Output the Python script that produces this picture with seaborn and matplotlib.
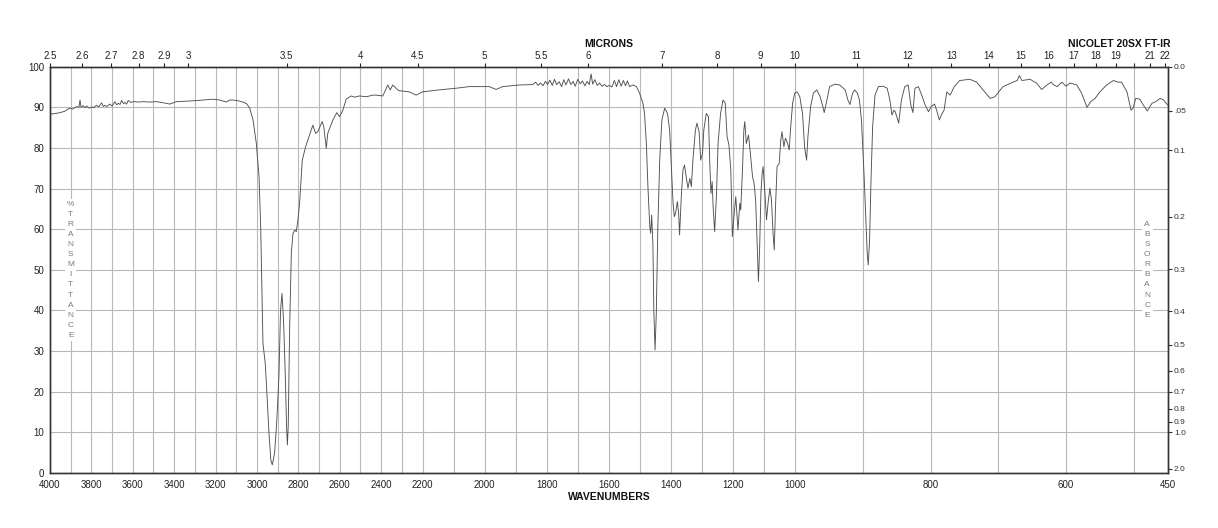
import numpy as np
import matplotlib
matplotlib.use("Agg")
import matplotlib.pyplot as plt
import seaborn as sns
import pandas as pd

# ---------------- data ----------------
wavenumber = [
    4000, 3960, 3930, 3905, 3890, 3870, 3860, 3855, 3850, 3840, 3830, 3823, 3810, 3800,
    3790, 3775, 3765, 3751, 3742, 3735, 3725, 3711, 3700, 3686, 3678, 3670, 3662, 3654,
    3645, 3638, 3630, 3622, 3610, 3598, 3570, 3550, 3520, 3485, 3450, 3421, 3400, 3389,
    3350, 3309, 3260, 3212, 3180, 3148, 3132, 3116, 3090, 3068, 3050, 3035, 3019, 3003,
    2990, 2982, 2976, 2971, 2960, 2952, 2942, 2933, 2926, 2915, 2904, 2894, 2886, 2879,
    2871, 2863, 2857, 2853, 2849, 2842, 2834, 2826, 2817, 2810, 2802, 2794, 2781, 2765,
    2746, 2730, 2717, 2706, 2685, 2677, 2665, 2658, 2649, 2633, 2614, 2601, 2585, 2569,
    2545, 2529, 2505, 2472, 2440, 2424, 2392, 2368, 2356, 2344, 2320, 2312, 2264, 2231,
    2200, 2146, 2092, 2049, 1985, 1963, 1942, 1888, 1845, 1836, 1828, 1820, 1812, 1804,
    1797, 1790, 1782, 1775, 1768, 1760, 1752, 1745, 1738, 1730, 1722, 1715, 1708, 1700,
    1692, 1685, 1677, 1670, 1663, 1657, 1652, 1645, 1637, 1630, 1622, 1614, 1606, 1598,
    1590, 1582, 1575, 1568, 1560, 1553, 1546, 1540, 1533, 1522, 1511, 1501, 1490, 1485,
    1479, 1474, 1468, 1465, 1462, 1458, 1455, 1451, 1447, 1442, 1436, 1429, 1420, 1411,
    1404, 1398, 1393, 1389, 1385, 1379, 1375, 1372, 1366, 1361, 1356, 1350, 1345, 1339,
    1334, 1329, 1321, 1316, 1309, 1304, 1298, 1294, 1286, 1279, 1275, 1271, 1267, 1264,
    1259, 1253, 1248, 1240, 1232, 1225, 1219, 1213, 1207, 1202, 1197, 1191, 1187, 1184,
    1178, 1175, 1169, 1165, 1162, 1157, 1150, 1144, 1137, 1132, 1127, 1122, 1118, 1114,
    1110, 1106, 1103, 1097, 1092, 1087, 1081, 1076, 1071, 1067, 1063, 1058, 1051, 1046,
    1042, 1036, 1031, 1024, 1019, 1014, 1008, 1001, 997, 993, 989, 986, 983, 981,
    977, 973, 968, 963, 959, 957, 954, 949, 941, 934, 926, 922, 919, 915,
    912, 908, 905, 902, 898, 895, 893.5, 892, 890, 888, 885.5, 882, 877, 870,
    864, 860, 857, 854, 852, 847, 843, 838, 833, 829, 826, 823, 818, 813,
    808, 803, 799, 794, 791, 787, 784, 780, 776, 771, 765, 757, 742, 732,
    720, 712, 705, 693, 678, 672, 669, 665, 653, 643, 636, 628, 622, 618,
    613, 606, 600, 594, 584, 577, 569, 563.5, 557, 550, 540, 530, 523, 518,
    510, 504, 501, 497, 491, 486, 480, 473, 467.5, 461, 456, 451, 450,
]
transmittance = [
    88.3, 88.6, 89.0, 89.8, 89.6, 90.2, 90.0, 91.8, 90.0, 90.4, 89.9, 90.3, 89.8, 90.1,
    89.9, 90.5, 90.1, 91.1, 90.2, 90.5, 90.2, 90.8, 90.3, 91.4, 90.6, 91.0, 90.7, 91.7,
    90.9, 91.2, 90.8, 91.7, 91.2, 91.4, 91.3, 91.4, 91.3, 91.4, 91.1, 90.8, 91.2, 91.4,
    91.5, 91.6, 91.8, 92.0, 91.8, 91.3, 91.8, 91.8, 91.6, 91.3, 90.9, 89.8, 86.9, 81.1,
    72.9, 60.6, 44.2, 31.9, 27.0, 19.6, 9.8, 3.2, 2.0, 4.8, 13.0, 23.7, 40.1, 44.2,
    36.8, 23.7, 11.4, 6.9, 11.4, 36.0, 54.1, 59.0, 59.8, 59.4, 62.3, 66.4, 77.0, 80.3,
    83.2, 85.6, 83.6, 84.0, 86.5, 85.2, 79.9, 83.6, 84.8, 86.9, 88.7, 87.7, 89.3, 92.0,
    92.8, 92.5, 92.8, 92.6, 93.0, 93.0, 92.8, 95.5, 94.3, 95.5, 94.3, 94.1, 93.8, 93.0,
    93.8, 94.3, 94.7, 95.1, 95.1, 94.4, 95.1, 95.5, 95.6, 96.2, 95.4, 96.0, 95.3, 96.4,
    95.6, 96.7, 95.4, 96.9, 95.6, 96.3, 95.1, 96.8, 95.5, 97.0, 95.6, 96.4, 95.2, 96.9,
    95.8, 96.5, 95.3, 96.4, 95.6, 98.2, 95.7, 96.8, 95.4, 96.0, 95.2, 95.6, 95.1, 95.4,
    95.0, 96.6, 95.1, 96.8, 95.2, 96.6, 95.3, 96.5, 95.1, 95.5, 95.1, 93.5, 91.0, 88.5,
    81.1, 70.5, 60.6, 59.0, 63.5, 56.5, 40.1, 30.3, 39.3, 60.6, 77.0, 86.9, 89.8, 88.5,
    84.4, 74.6, 66.4, 63.1, 63.9, 66.8, 63.9, 58.6, 68.8, 74.6, 75.8, 72.5, 70.1, 72.5,
    70.5, 77.0, 84.4, 86.1, 84.0, 77.0, 78.7, 84.4, 88.5, 87.7, 77.0, 68.8, 71.7, 65.5,
    59.4, 68.8, 81.1, 88.5, 91.8, 91.0, 82.8, 80.7, 74.6, 58.2, 63.1, 68.0, 63.1, 59.8,
    66.4, 64.7, 75.4, 84.4, 86.5, 81.1, 83.2, 78.7, 72.9, 71.3, 67.2, 55.7, 47.1, 55.7,
    68.8, 73.8, 75.4, 68.8, 62.3, 66.4, 70.1, 67.2, 59.0, 54.9, 65.5, 75.4, 76.2, 82.0,
    84.0, 80.3, 82.4, 81.1, 79.5, 85.2, 91.0, 93.5, 93.8, 92.6, 88.5, 80.3, 77.0, 82.8,
    90.2, 93.5, 94.3, 92.6, 90.2, 88.7, 91.0, 95.1, 95.7, 95.5, 94.3, 91.8, 90.7, 93.5,
    94.3, 93.5, 91.8, 86.9, 72.9, 60.6, 54.1, 51.2, 57.3, 71.3, 85.2, 93.0, 95.1, 95.2,
    94.7, 91.8, 88.1, 89.3, 88.9, 86.1, 91.8, 95.1, 95.5, 90.5, 88.7, 94.7, 95.1, 93.0,
    90.6, 88.9, 90.2, 90.8, 89.3, 86.9, 88.1, 89.3, 93.8, 93.0, 95.1, 96.6, 96.9, 96.2,
    93.8, 92.2, 92.6, 95.1, 96.2, 96.6, 97.8, 96.6, 96.9, 95.9, 94.4, 95.5, 96.2, 95.5,
    95.1, 96.2, 95.2, 96.0, 95.5, 93.5, 90.0, 91.4, 92.2, 93.8, 95.5, 96.6, 96.2, 96.2,
    93.8, 89.3, 89.8, 92.2, 92.0, 90.6, 89.1, 91.0, 91.4, 92.2, 91.8, 90.8, 90.6,
]

x_tick_values = [4000, 3800, 3600, 3400, 3200, 3000, 2800, 2600, 2400, 2200, 2000,
                 1800, 1600, 1400, 1200, 1000, 800, 600, 450]
y_tick_values = [0, 10, 20, 30, 40, 50, 60, 70, 80, 90, 100]
micron_values = [2.5, 2.6, 2.7, 2.8, 2.9, 3, 3.5, 4, 4.5, 5, 5.5, 6, 7, 8, 9, 10, 11,
                 12, 13, 14, 15, 16, 17, 18, 19, 20, 21, 22]
micron_labels = ["2.5", "2.6", "2.7", "2.8", "2.9", "3", "3.5", "4", "4.5", "5", "5.5",
                 "6", "7", "8", "9", "10", "11", "12", "13", "14", "15", "16", "17",
                 "18", "19", "", "21", "22"]
absorbance_values = [0.0, 0.05, 0.1, 0.2, 0.3, 0.4, 0.5, 0.6, 0.7, 0.8, 0.9, 1.0, 2.0]
absorbance_labels = ["0.0", ".05", "0.1", "0.2", "0.3", "0.4", "0.5", "0.6", "0.7",
                     "0.8", "0.9", "1.0", "2.0"]

# ---------------- piecewise wavenumber scale ----------------
BRK_W = np.array([450.0, 1000.0, 2200.0, 4000.0])
BRK_U = np.array([0.0, 1.0, 2.0, 3.0])


def fwd(w):
    w = np.asarray(w, dtype=float)
    out = np.interp(w, BRK_W, BRK_U)
    out = np.where(w < 450, (w - 450) / 550.0, out)
    out = np.where(w > 4000, 3 + (w - 4000) / 1800.0, out)
    return out


def inv(u):
    u = np.asarray(u, dtype=float)
    out = np.interp(u, BRK_U, BRK_W)
    out = np.where(u < 0, 450 + u * 550.0, out)
    out = np.where(u > 3, 4000 + (u - 3) * 1800.0, out)
    return out


sns.set_theme(style="white")
plt.rcParams["font.family"] = ["Liberation Sans", "DejaVu Sans"]

W, H = 1218, 528
fig = plt.figure(figsize=(W / 100, H / 100), dpi=100)
ax = fig.add_axes([50 / W, 55 / H, 1117.6 / W, 406.3 / H])

df = pd.DataFrame({"wavenumber": wavenumber, "transmittance": transmittance})
sns.lineplot(data=df, x="wavenumber", y="transmittance", ax=ax, estimator=None,
             sort=False, color="#505050", linewidth=0.65, zorder=3)

ax.set_xscale("function", functions=(fwd, inv))
ax.set_xlim(4000, 450)
ax.set_ylim(0, 100)
ax.set_xlabel("")
ax.set_ylabel("")

grid_kw = dict(color="#b8b8b8", linewidth=0.8)
ax.set_xticks(x_tick_values)
ax.set_xticklabels([str(v) for v in x_tick_values])
ax.set_xticks(list(range(500, 4000, 100)), minor=True)
ax.set_yticks(y_tick_values)
ax.set_yticklabels([str(v) for v in y_tick_values])
ax.grid(True, which="both", axis="x", **grid_kw)
ax.grid(True, which="major", axis="y", **grid_kw)
ax.set_axisbelow(True)
ax.tick_params(axis="x", which="both", length=0, pad=5, labelsize=7, colors="#222222")
ax.tick_params(axis="y", which="both", length=0, pad=4, labelsize=7, colors="#222222")

for sp in ax.spines.values():
    sp.set_color("#333333")
    sp.set_linewidth(0.9)

# top micron axis
axt = ax.twiny()
axt.set_xscale("function", functions=(fwd, inv))
axt.set_xlim(4000, 450)
axt.set_xticks([10000.0 / m for m in micron_values])
axt.set_xticklabels(micron_labels)
axt.tick_params(axis="x", direction="out", length=3, width=0.8, pad=1,
                labelsize=7, colors="#222222")
axt.grid(False)

# right absorbance axis
axr = ax.twinx()
axr.set_ylim(0, 100)
axr.set_yticks([100 * 10 ** (-a) for a in absorbance_values])
axr.set_yticklabels(absorbance_labels)
axr.tick_params(axis="y", direction="out", length=3, width=0.8, pad=1.5,
                labelsize=6, colors="#333333")
axr.grid(False)
for a in (axt, axr):
    for sp in a.spines.values():
        sp.set_color("#333333")
        sp.set_linewidth(0.9)

# stacked axis captions
ax.text(3900, 50, "\n".join("%TRANSMITTANCE"), ha="center", va="center",
        fontsize=6, color="#7a7a7a", linespacing=1.62, zorder=2,
        bbox=dict(facecolor="white", edgecolor="none", pad=1.5))
ax.text(480, 50, "\n".join("ABSORBANCE"), ha="center", va="center",
        fontsize=6, color="#7a7a7a", linespacing=1.62, zorder=2,
        bbox=dict(facecolor="white", edgecolor="none", pad=1.5))

fig.text(608.7 / W, 1 - 44 / H, "MICRONS", ha="center", va="center",
         fontsize=7.5, fontweight="bold", color="#111111")
fig.text(609 / W, 1 - 496.7 / H, "WAVENUMBERS", ha="center", va="center",
         fontsize=7.5, fontweight="bold", color="#111111")
fig.text(1171 / W, 1 - 44 / H, "NICOLET 20SX FT-IR", ha="right", va="center",
         fontsize=7.5, fontweight="bold", color="#111111")

fig.savefig("out.png", dpi=100, facecolor="white")
